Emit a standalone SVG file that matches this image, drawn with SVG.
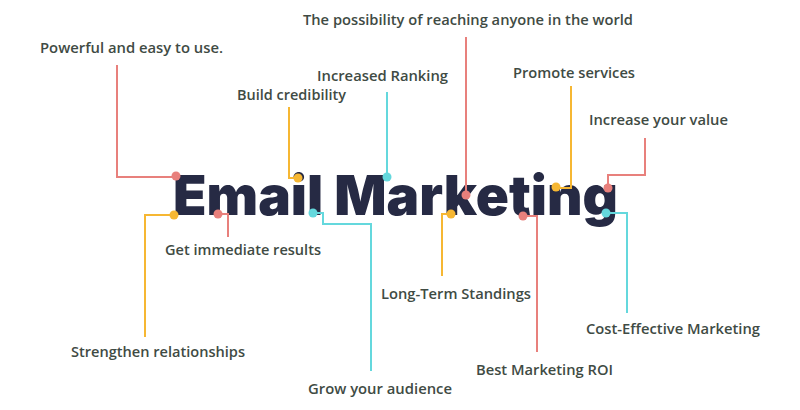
<svg xmlns="http://www.w3.org/2000/svg" width="800" height="410" viewBox="0 0 800 410">
<style>
.lbl{font-family:"Open Sans","Liberation Sans",sans-serif;font-weight:600;font-size:15px;fill:#3f4b44}
.title{font-family:Inter,"DejaVu Sans","Liberation Sans",sans-serif;font-weight:900;font-size:55px;fill:#262a44}
.r{stroke:#e8807c}.y{stroke:#f6b733}.c{stroke:#64d8dd}
.ln{fill:none;stroke-width:2}
.dr{fill:#e8807c}.dy{fill:#f6b733}.dc{fill:#64d8dd}
</style>
<rect width="800" height="410" fill="#ffffff"/>
<g id="title"><text class="title" x="173" y="215" textLength="445" lengthAdjust="spacingAndGlyphs">Email Marketing</text></g>
<g id="connectors">
<polyline class="ln r" points="117,65 117,177 176,177"/>
<polyline class="ln y" points="289,107 289,178 298,178"/>
<polyline class="ln c" points="387,92 387,177"/>
<polyline class="ln r" points="466,37 466,195"/>
<polyline class="ln y" points="571,86 571,188 556,188"/>
<polyline class="ln r" points="645,138 645,175 608,175 608,188"/>
<polyline class="ln c" points="606,213 627,213 627,313"/>
<polyline class="ln r" points="523,216 537,216 537,352"/>
<polyline class="ln y" points="451,214 442,214 442,276"/>
<polyline class="ln c" points="313,213 323,213 323,224 371,224 371,371"/>
<polyline class="ln r" points="218,214 228,214 228,237"/>
<polyline class="ln y" points="174,215 145,215 145,337"/>
</g>
<g id="n1"><circle class="dr" cx="176" cy="176" r="4.5"/><text class="lbl" x="40" y="53" textLength="183" lengthAdjust="spacingAndGlyphs">Powerful and easy to use.</text></g>
<g id="n2"><circle class="dy" cx="298" cy="178" r="4.5"/><text class="lbl" x="237" y="100" textLength="109" lengthAdjust="spacingAndGlyphs">Build credibility</text></g>
<g id="n3"><circle class="dc" cx="387" cy="177" r="4.5"/><text class="lbl" x="317" y="81" textLength="131" lengthAdjust="spacingAndGlyphs">Increased Ranking</text></g>
<g id="n4"><circle class="dr" cx="466" cy="195" r="4.5"/><text class="lbl" x="303" y="25" textLength="330" lengthAdjust="spacingAndGlyphs">The possibility of reaching anyone in the world</text></g>
<g id="n5"><circle class="dy" cx="556" cy="187" r="4.5"/><text class="lbl" x="513" y="78" textLength="122" lengthAdjust="spacingAndGlyphs">Promote services</text></g>
<g id="n6"><circle class="dr" cx="608" cy="188" r="4.5"/><text class="lbl" x="589" y="125" textLength="139" lengthAdjust="spacingAndGlyphs">Increase your value</text></g>
<g id="n7"><circle class="dc" cx="606" cy="213" r="4.5"/><text class="lbl" x="586" y="334" textLength="174" lengthAdjust="spacingAndGlyphs">Cost-Effective Marketing</text></g>
<g id="n8"><circle class="dr" cx="523" cy="216" r="4.5"/><text class="lbl" x="476" y="375" textLength="137" lengthAdjust="spacingAndGlyphs">Best Marketing ROI</text></g>
<g id="n9"><circle class="dy" cx="451" cy="214" r="4.5"/><text class="lbl" x="381" y="299" textLength="150" lengthAdjust="spacingAndGlyphs">Long-Term Standings</text></g>
<g id="n10"><circle class="dc" cx="313" cy="213" r="4.5"/><text class="lbl" x="308" y="394" textLength="144" lengthAdjust="spacingAndGlyphs">Grow your audience</text></g>
<g id="n11"><circle class="dr" cx="218" cy="214" r="4.5"/><text class="lbl" x="165" y="255" textLength="156" lengthAdjust="spacingAndGlyphs">Get immediate results</text></g>
<g id="n12"><circle class="dy" cx="174" cy="215" r="4.5"/><text class="lbl" x="71" y="357" textLength="174" lengthAdjust="spacingAndGlyphs">Strengthen relationships</text></g>
</svg>
